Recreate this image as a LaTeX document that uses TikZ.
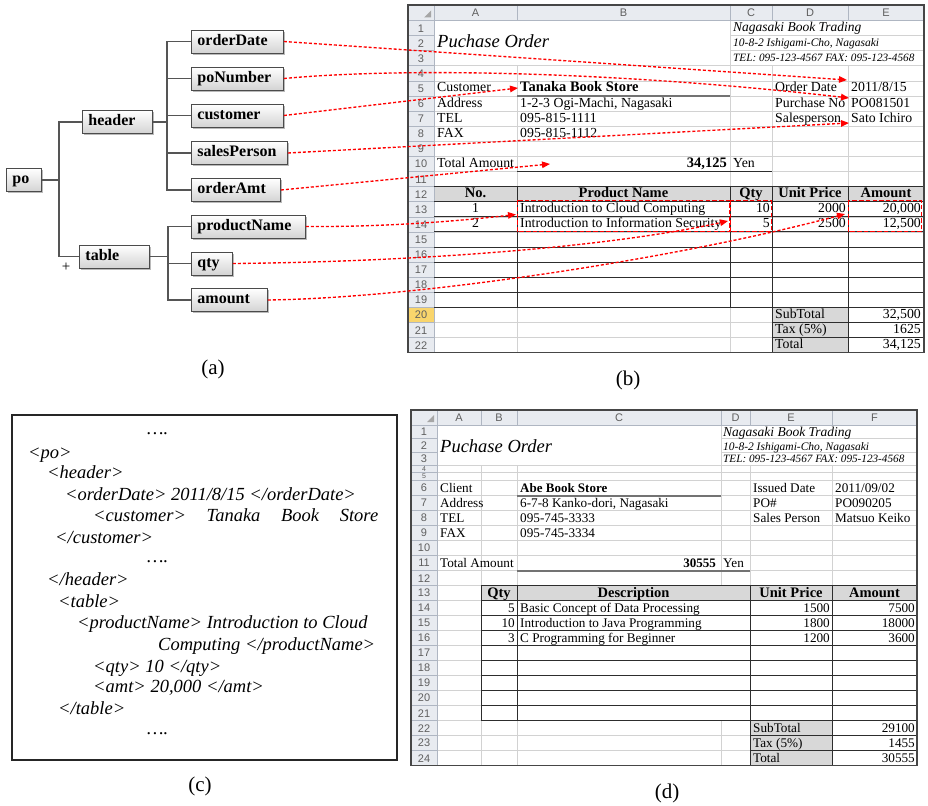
\documentclass[tikz,border=0pt]{standalone}
\usepackage{fontspec}
\setmainfont{Liberation Serif}
\newfontfamily\labelsans{Liberation Sans}
\usetikzlibrary{arrows.meta,shadows}

\definecolor{gridc}{RGB}{210,210,210}
\definecolor{hdrfill}{RGB}{232,235,240}
\definecolor{hdrline}{RGB}{175,182,194}
\definecolor{hdrtext}{RGB}{95,95,95}
\definecolor{cellgray}{RGB}{216,216,216}
\definecolor{rowsel}{RGB}{249,213,108}
\definecolor{framec}{RGB}{70,70,70}
\definecolor{tblc}{RGB}{45,45,45}
\definecolor{treec}{RGB}{85,85,85}
\definecolor{boxedge}{RGB}{75,75,75}

\newcommand{\cellB}{\fontsize{13.8}{15}\selectfont}
\newcommand{\cellD}{\fontsize{13.2}{15}\selectfont}
\newcommand{\hdrbold}{\fontsize{14.5}{15}\selectfont\bfseries}
\newcommand{\lblfont}{\labelsans\fontsize{11}{12}\selectfont}
\newcommand{\tinylbl}{\labelsans\fontsize{7}{7}\selectfont}
\newcommand{\xmlfont}{\fontsize{18.5}{21}\selectfont\itshape}
\newcommand{\capfont}{\fontsize{21}{24}\selectfont}
\newcommand{\titlefont}{\fontsize{18.5}{20}\selectfont\itshape}

\begin{document}
\begin{tikzpicture}[x=1pt,y=-1pt,
  declare function={rb(\k)=20.5+15.1*(\k-1); rd(\k)=480.5+15*(\k-6);},
  treebox/.style={draw=boxedge, line width=0.9pt, top color=white, bottom color=black!17,
    anchor=west, inner xsep=6pt, inner ysep=0pt, minimum height=23pt,
    text width=#1, align=left, font=\fontsize{16}{18}\selectfont\bfseries,
    text height=11pt, text depth=3.5pt,
    drop shadow={shadow xshift=1.8pt, shadow yshift=-1.8pt, fill=black!45, opacity=0.6}},
  treeline/.style={draw=treec, line width=1.3pt},
  conn/.style={draw=red, line width=1.35pt, dash pattern=on 3pt off 2pt,
    -{Triangle[length=8pt,width=6.5pt]}},
  redbox/.style={draw=red, line width=1pt, dash pattern=on 4.5pt off 2.2pt},
  gridln/.style={draw=gridc, line width=0.6pt},
  hdrln/.style={draw=hdrline, line width=0.6pt},
  darkln/.style={draw=tblc, line width=1pt},
  uline/.style={draw=black!55, line width=2pt},
  sheetframe/.style={draw=framec, line width=1.4pt},
  lbl/.style={font=\lblfont, text=hdrtext, inner sep=0pt},
  cb/.style={font=\cellB, inner sep=0pt, anchor=base west},
  cbr/.style={font=\cellB, inner sep=0pt, anchor=base east},
  cbc/.style={font=\cellB, inner sep=0pt, anchor=base},
  cd/.style={font=\cellD, inner sep=0pt, anchor=base west},
  cdr/.style={font=\cellD, inner sep=0pt, anchor=base east},
  hb/.style={font=\hdrbold, inner sep=0pt, anchor=base},
  xml/.style={font=\xmlfont, inner sep=0pt, anchor=base west},
  captxt/.style={font=\capfont, inner sep=0pt}
]
\useasboundingbox (0,0) rectangle (928,805);

% ---------------- (a) schema tree ----------------
\node[treebox=23pt] (po) at (6,180) {po};
\node[treebox=58pt] (header) at (82,122) {header};
\node[treebox=58pt] (table) at (79,256.5) {table};
\node[treebox=80pt] (orderDate) at (191,41.5) {orderDate};
\node[treebox=80pt] (poNumber) at (191,78.5) {poNumber};
\node[treebox=80pt] (customer) at (191,115.5) {customer};
\node[treebox=84pt] (salesPerson) at (191,153) {salesPerson};
\node[treebox=77pt] (orderAmt) at (191,190) {orderAmt};
\node[treebox=102pt] (productName) at (191,226.5) {productName};
\node[treebox=29pt] (qty) at (191,263.5) {qty};
\node[treebox=64pt] (amount) at (191,300) {amount};

\draw[treeline] (po.east) -- ++(17,0) |- (header.west);
\draw[treeline] (po.east) -- ++(17,0) |- (table.west);
\foreach \n in {orderDate,poNumber,customer,salesPerson,orderAmt}
  \draw[treeline] (header.east) -- ++(14,0) |- (\n.west);
\foreach \n in {productName,qty,amount}
  \draw[treeline] (table.east) -- ++(18,0) |- (\n.west);
\node[font=\fontsize{15}{15}\selectfont, inner sep=0pt] (plus) at (66,267) {+};

\node[captxt] (capa) at (213,369) {(a)};

% ---------------- (b) filled purchase order ----------------
\fill[hdrfill] (408,5) rectangle (924,20.5);
\fill[hdrfill] (408,20.5) rectangle (434,{rb(23)});
\fill[rowsel] (408,{rb(20)}) rectangle (434,{rb(21)});
\fill[cellgray] (434,{rb(12)}) rectangle (924,{rb(13)});
\fill[cellgray] (772,{rb(20)}) rectangle (848,{rb(23)});

\foreach \k in {4,...,22} \draw[gridln] (434,{rb(\k)}) -- (924,{rb(\k)});
\foreach \k in {2,3} \draw[gridln] (730,{rb(\k)}) -- (924,{rb(\k)});
\draw[gridln] (517,{rb(4)}) -- (517,{rb(23)});
\draw[gridln] (730,20.5) -- (730,{rb(23)});
\foreach \x in {772,848} \draw[gridln] (\x,{rb(4)}) -- (\x,{rb(23)});

\foreach \k in {2,...,22} \draw[hdrln] (408,{rb(\k)}) -- (434,{rb(\k)});
\foreach \x in {517,730,772,848} \draw[hdrln] (\x,5) -- (\x,20.5);
\draw[hdrln] (408,20.5) -- (924,20.5);
\draw[hdrln] (434,5) -- (434,{rb(23)});
\fill[black!35] (424,17.5) -- (431,17.5) -- (431,10.5) -- cycle;

\foreach \c/\x in {A/475.5,B/623.5,C/751,D/810,E/886}
  \node[lbl] (colb-\c) at (\x,13) {\c};
\foreach \k in {1,...,22}
  \node[lbl] (rowb-\k) at (421,{rb(\k)+7.8}) {\k};

\foreach \k in {12,...,20} \draw[darkln] (434,{rb(\k)}) -- (924,{rb(\k)});
\foreach \k in {21,22} \draw[darkln] (772,{rb(\k)}) -- (924,{rb(\k)});
\foreach \x in {517,730} \draw[darkln] (\x,{rb(12)}) -- (\x,{rb(20)});
\foreach \x in {772,848} \draw[darkln] (\x,{rb(12)}) -- (\x,{rb(23)});
\draw[uline] (517,{rb(6)}) -- (730,{rb(6)});
\draw[darkln] (517,{rb(11)}) -- (772,{rb(11)});
\draw[sheetframe] (408,5) rectangle (924,{rb(23)});

\node[anchor=base west, inner sep=0pt, font=\titlefont] (titleb) at (437,48) {Puchase Order};
\node[anchor=base west, inner sep=0pt, font=\fontsize{13.5}{15}\selectfont\itshape] (firmb) at (733,{rb(2)-4}) {Nagasaki Book Trading};
\node[anchor=base west, inner sep=0pt, font=\fontsize{11.5}{13}\selectfont\itshape] (addrb) at (733,{rb(3)-4}) {10-8-2 Ishigami-Cho, Nagasaki};
\node[anchor=base west, inner sep=0pt, font=\fontsize{11.2}{13}\selectfont\itshape] (telb) at (733,{rb(4)-4}) {TEL: 095-123-4567 FAX: 095-123-4568};

\node[cb] (b-a5) at (437,{rb(6)-4}) {Customer};
\node[cb, font=\fontsize{14.5}{15}\selectfont\bfseries] (b-b5) at (520,{rb(6)-4}) {Tanaka Book Store};
\node[cb] (b-d5) at (775,{rb(6)-4}) {Order Date};
\node[cb] (b-e5) at (851,{rb(6)-4}) {2011/8/15};
\node[cb] (b-a6) at (437,{rb(7)-4}) {Address};
\node[cb] (b-b6) at (520,{rb(7)-4}) {1-2-3 Ogi-Machi, Nagasaki};
\node[cb] (b-d6) at (775,{rb(7)-4}) {Purchase No};
\node[cb] (b-e6) at (851,{rb(7)-4}) {PO081501};
\node[cb] (b-a7) at (437,{rb(8)-4}) {TEL};
\node[cb] (b-b7) at (520,{rb(8)-4}) {095-815-1111};
\node[cb] (b-d7) at (775,{rb(8)-4}) {Salesperson};
\node[cb] (b-e7) at (851,{rb(8)-4}) {Sato Ichiro};
\node[cb] (b-a8) at (437,{rb(9)-4}) {FAX};
\node[cb] (b-b8) at (520,{rb(9)-4}) {095-815-1112};
\node[cb] (b-a10) at (437,{rb(11)-4}) {Total Amount};
\node[cbr, font=\fontsize{14.5}{15}\selectfont\bfseries] (b-b10) at (727,{rb(11)-4}) {34,125};
\node[cb] (b-c10) at (733,{rb(11)-4}) {Yen};

\node[hb] (b-h1) at (475.5,{rb(13)-4}) {No.};
\node[hb] (b-h2) at (623.5,{rb(13)-4}) {Product Name};
\node[hb] (b-h3) at (751,{rb(13)-4}) {Qty};
\node[hb] (b-h4) at (810,{rb(13)-4}) {Unit Price};
\node[hb] (b-h5) at (886,{rb(13)-4}) {Amount};

\node[cbc] (b-a13) at (475.5,{rb(14)-4}) {1};
\node[cb] (b-b13) at (520,{rb(14)-4}) {Introduction to Cloud Computing};
\node[cbr] (b-c13) at (770,{rb(14)-4}) {10};
\node[cbr] (b-d13) at (846,{rb(14)-4}) {2000};
\node[cbr] (b-e13) at (921,{rb(14)-4}) {20,000};
\node[cbc] (b-a14) at (475.5,{rb(15)-4}) {2};
\node[cb] (b-b14) at (520,{rb(15)-4}) {Introduction to Information Security};
\node[cbr] (b-c14) at (770,{rb(15)-4}) {5};
\node[cbr] (b-d14) at (846,{rb(15)-4}) {2500};
\node[cbr] (b-e14) at (921,{rb(15)-4}) {12,500};

\node[cb] (b-d20) at (775,{rb(21)-4}) {SubTotal};
\node[cbr] (b-e20) at (921,{rb(21)-4}) {32,500};
\node[cb] (b-d21) at (775,{rb(22)-4}) {Tax (5\%)};
\node[cbr] (b-e21) at (921,{rb(22)-4}) {1625};
\node[cb] (b-d22) at (775,{rb(23)-4}) {Total};
\node[cbr] (b-e22) at (921,{rb(23)-4}) {34,125};

\draw[redbox] (517.5,{rb(13)-1.5}) rectangle (729.5,{rb(15)});
\draw[redbox] (730.5,{rb(13)-1.5}) rectangle (771,{rb(15)});
\draw[redbox] (848.5,{rb(13)-1.5}) rectangle (921.5,{rb(15)});

\node[captxt] (capb) at (628,380) {(b)};

% ---------------- mapping arrows ----------------
\coordinate (tDate) at (847,80);
\coordinate (tPO) at (849,98);
\coordinate (tCust) at (518,88);
\coordinate (tSales) at (849,123);
\coordinate (tAmt) at (550,164);
\coordinate (tProd) at (516,214.5);
\coordinate (tQty) at (728,221);
\coordinate (tAmount) at (845,214);

\draw[conn] (orderDate.east) -- (tDate);
\draw[conn] (poNumber.east) .. controls (420,66) and (640,74) .. (tPO);
\draw[conn] (customer.east) -- (tCust);
\draw[conn] (salesPerson.east) -- (tSales);
\draw[conn] (orderAmt.east) -- (tAmt);
\draw[conn] (productName.east) .. controls (380,227) and (450,222) .. (tProd);
\draw[conn] (qty.east) .. controls (400,262) and (600,249) .. (tQty);
\draw[conn] (amount.east) .. controls (420,298) and (680,258) .. (tAmount);

% ---------------- (c) XML instance ----------------
\draw[draw=black!85, line width=1.6pt] (12,415) rectangle (397,760);
\node[xml] (x1) at (147,434) {….};
\node[xml] (x2) at (28,458) {<po>};
\node[xml] (x3) at (47,478.5) {<header>};
\node[xml] (x4) at (65,500) {<orderDate> 2011/8/15 </orderDate>};
\node[xml] (x5) at (93,521) {\makebox[285pt][s]{<customer> Tanaka Book Store}};
\node[xml] (x6) at (55,543) {</customer>};
\node[xml] (x7) at (147,562.5) {….};
\node[xml] (x8) at (47,585) {</header>};
\node[xml] (x9) at (58,607) {<table>};
\node[xml] (x10) at (77,628) {<productName> Introduction to Cloud};
\node[xml] (x11) at (158,650) {Computing </productName>};
\node[xml] (x12) at (93,672) {<qty> 10 </qty>};
\node[xml] (x13) at (93,692.5) {<amt> 20,000 </amt>};
\node[xml] (x14) at (58,714) {</table>};
\node[xml] (x15) at (147,734) {….};

\node[captxt] (capc) at (200,786) {(c)};

% ---------------- (d) another purchase order ----------------
\fill[hdrfill] (411,410) rectangle (917,425);
\fill[hdrfill] (411,425) rectangle (437,{rd(25)});
\fill[cellgray] (481,{rd(13)}) rectangle (917,{rd(14)});
\fill[cellgray] (750,{rd(22)}) rectangle (832,{rd(25)});

\foreach \y in {438.5,452} \draw[gridln] (721,\y) -- (917,\y);
\foreach \y in {465.5,472.5} \draw[gridln] (437,\y) -- (917,\y);
\foreach \k in {6,...,24} \draw[gridln] (437,{rd(\k)}) -- (917,{rd(\k)});
\foreach \x in {481,517,750,832} \draw[gridln] (\x,465.5) -- (\x,{rd(25)});
\draw[gridln] (721,425) -- (721,{rd(13)});
\draw[gridln] (721,{rd(22)}) -- (721,{rd(25)});

\foreach \y in {438.5,452,465.5,472.5} \draw[hdrln] (411,\y) -- (437,\y);
\foreach \k in {6,...,24} \draw[hdrln] (411,{rd(\k)}) -- (437,{rd(\k)});
\foreach \x in {481,517,721,750,832} \draw[hdrln] (\x,410) -- (\x,425);
\draw[hdrln] (411,425) -- (917,425);
\draw[hdrln] (437,410) -- (437,{rd(25)});
\fill[black!35] (427,422) -- (434,422) -- (434,415) -- cycle;

\foreach \c/\x in {A/459,B/499,C/619,D/735.5,E/791,F/874.5}
  \node[lbl] (cold-\c) at (\x,417.5) {\c};
\node[lbl] (rowd-1) at (424,431.75) {1};
\node[lbl] (rowd-2) at (424,445.25) {2};
\node[lbl] (rowd-3) at (424,458.75) {3};
\node[font=\tinylbl, text=hdrtext, inner sep=0pt] (rowd-4) at (424,469) {4};
\node[font=\tinylbl, text=hdrtext, inner sep=0pt] (rowd-5) at (424,476.5) {5};
\foreach \k in {6,...,24}
  \node[lbl] (rowd-\k) at (424,{rd(\k)+7.7}) {\k};

\foreach \k in {13,...,22} \draw[darkln] (481,{rd(\k)}) -- (917,{rd(\k)});
\foreach \k in {23,24} \draw[darkln] (750,{rd(\k)}) -- (917,{rd(\k)});
\foreach \x in {481,517} \draw[darkln] (\x,{rd(13)}) -- (\x,{rd(22)});
\foreach \x in {750,832} \draw[darkln] (\x,{rd(13)}) -- (\x,{rd(25)});
\draw[uline] (517,{rd(7)}) -- (721,{rd(7)});
\draw[uline] (517,{rd(12)}) -- (750,{rd(12)});
\draw[sheetframe] (411,410) rectangle (917,{rd(25)});

\node[anchor=base west, inner sep=0pt, font=\titlefont] (titled) at (440,452.5) {Puchase Order};
\node[anchor=base west, inner sep=0pt, font=\fontsize{13.5}{15}\selectfont\itshape] (firmd) at (723,436) {Nagasaki Book Trading};
\node[anchor=base west, inner sep=0pt, font=\fontsize{11.5}{13}\selectfont\itshape] (addrd) at (723,450.5) {10-8-2 Ishigami-Cho, Nagasaki};
\node[anchor=base west, inner sep=0pt, font=\fontsize{11.2}{13}\selectfont\itshape] (teld) at (723,462.5) {TEL: 095-123-4567 FAX: 095-123-4568};

\node[cd] (d-a6) at (440,{rd(7)-3.5}) {Client};
\node[cd, font=\fontsize{13}{15}\selectfont\bfseries] (d-c6) at (520,{rd(7)-3.5}) {Abe Book Store};
\node[cd] (d-e6) at (753,{rd(7)-3.5}) {Issued Date};
\node[cd] (d-f6) at (835,{rd(7)-3.5}) {2011/09/02};
\node[cd] (d-a7) at (440,{rd(8)-3.5}) {Address};
\node[cd] (d-c7) at (520,{rd(8)-3.5}) {6-7-8 Kanko-dori, Nagasaki};
\node[cd] (d-e7) at (753,{rd(8)-3.5}) {PO\#};
\node[cd] (d-f7) at (835,{rd(8)-3.5}) {PO090205};
\node[cd] (d-a8) at (440,{rd(9)-3.5}) {TEL};
\node[cd] (d-c8) at (520,{rd(9)-3.5}) {095-745-3333};
\node[cd] (d-e8) at (753,{rd(9)-3.5}) {Sales Person};
\node[cd] (d-f8) at (835,{rd(9)-3.5}) {Matsuo Keiko};
\node[cd] (d-a9) at (440,{rd(10)-3.5}) {FAX};
\node[cd] (d-c9) at (520,{rd(10)-3.5}) {095-745-3334};
\node[cd] (d-a11) at (440,{rd(12)-3.5}) {Total Amount};
\node[cdr, font=\fontsize{13}{15}\selectfont\bfseries] (d-c11) at (716,{rd(12)-3.5}) {30555};
\node[cd] (d-d11) at (723,{rd(12)-3.5}) {Yen};

\node[hb] (d-h1) at (499,{rd(14)-3.5}) {Qty};
\node[hb] (d-h2) at (633.5,{rd(14)-3.5}) {Description};
\node[hb] (d-h3) at (791,{rd(14)-3.5}) {Unit Price};
\node[hb] (d-h4) at (874.5,{rd(14)-3.5}) {Amount};

\node[cdr] (d-b14) at (515,{rd(15)-3.5}) {5};
\node[cd] (d-c14) at (520,{rd(15)-3.5}) {Basic Concept of Data Processing};
\node[cdr] (d-e14) at (830,{rd(15)-3.5}) {1500};
\node[cdr] (d-f14) at (915,{rd(15)-3.5}) {7500};
\node[cdr] (d-b15) at (515,{rd(16)-3.5}) {10};
\node[cd] (d-c15) at (520,{rd(16)-3.5}) {Introduction to Java Programming};
\node[cdr] (d-e15) at (830,{rd(16)-3.5}) {1800};
\node[cdr] (d-f15) at (915,{rd(16)-3.5}) {18000};
\node[cdr] (d-b16) at (515,{rd(17)-3.5}) {3};
\node[cd] (d-c16) at (520,{rd(17)-3.5}) {C Programming for Beginner};
\node[cdr] (d-e16) at (830,{rd(17)-3.5}) {1200};
\node[cdr] (d-f16) at (915,{rd(17)-3.5}) {3600};

\node[cd] (d-e22) at (753,{rd(23)-3.5}) {SubTotal};
\node[cdr] (d-f22) at (915,{rd(23)-3.5}) {29100};
\node[cd] (d-e23) at (753,{rd(24)-3.5}) {Tax (5\%)};
\node[cdr] (d-f23) at (915,{rd(24)-3.5}) {1455};
\node[cd] (d-e24) at (753,{rd(25)-3.5}) {Total};
\node[cdr] (d-f24) at (915,{rd(25)-3.5}) {30555};

\node[captxt] (capd) at (667,793) {(d)};
\end{tikzpicture}
\end{document}
